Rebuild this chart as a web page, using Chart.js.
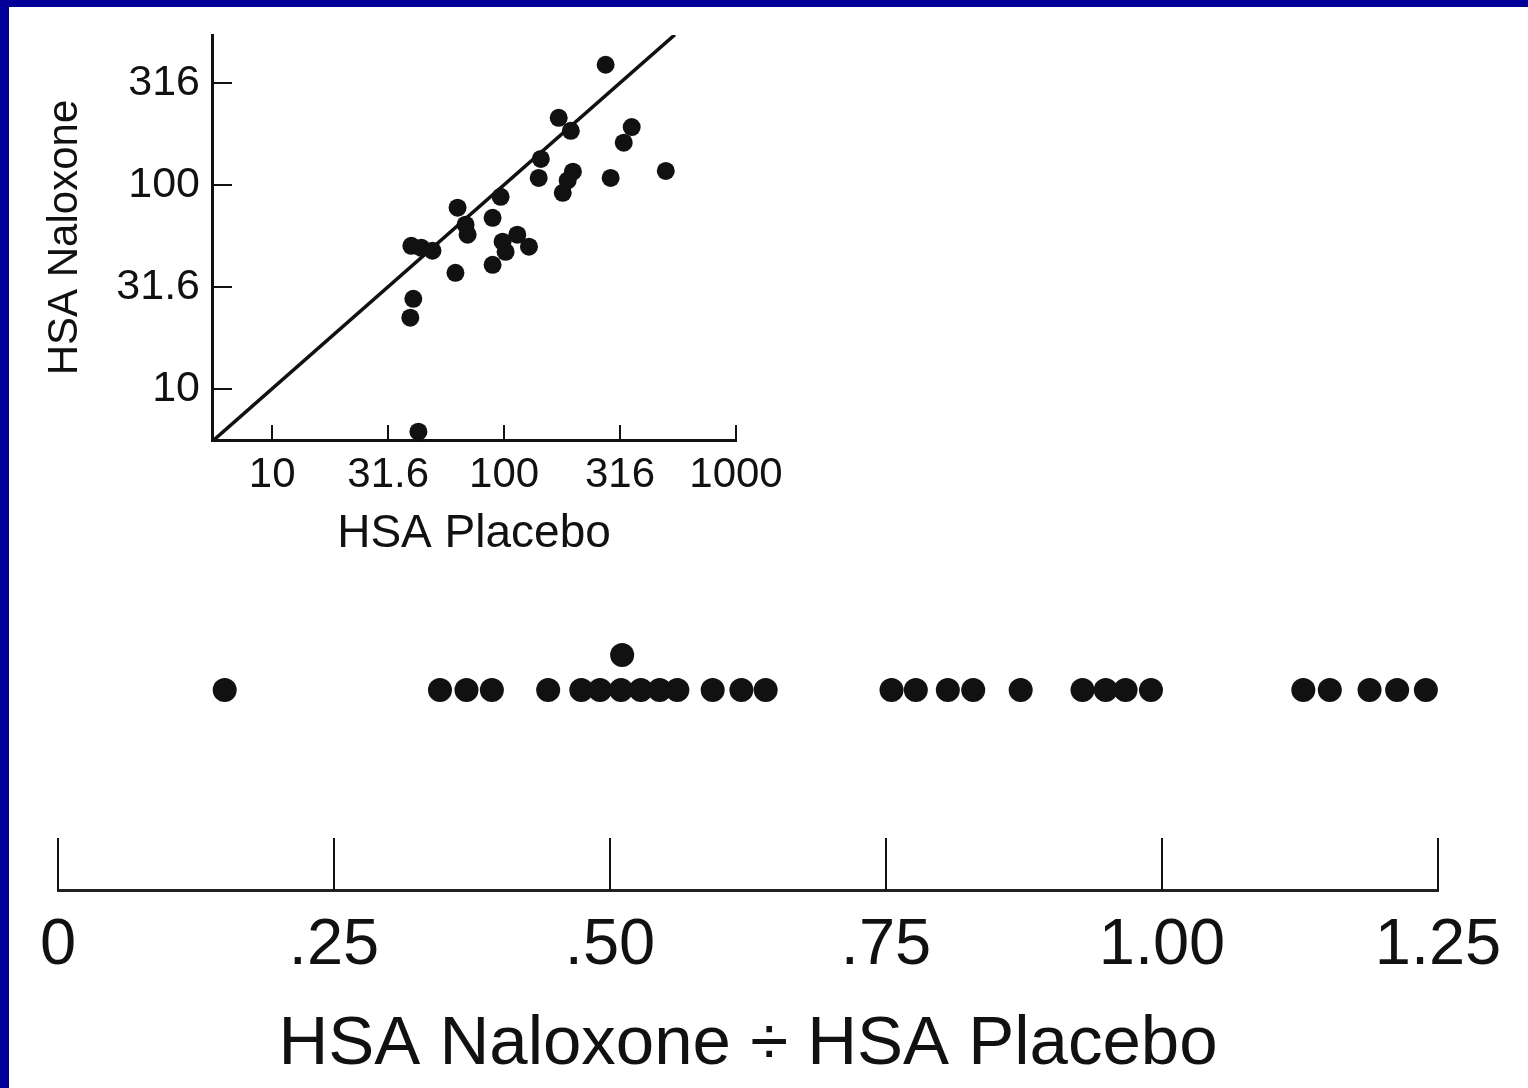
<!DOCTYPE html>
<html>
<head>
<meta charset="utf-8">
<script src="https://cdn.jsdelivr.net/npm/chart.js@4.4.1/dist/chart.umd.min.js"></script>
<style>
  html, body { margin: 0; padding: 0; background: #fff; }
  body { width: 1528px; height: 1088px; position: relative; overflow: hidden; }
  canvas { position: absolute; }
  #scatter { left: 0; top: 0; }
  #ratio { left: 0; top: 600px; }
  .band { position: absolute; background: #000099; }
  .band.top { left: 0; top: 0; width: 1528px; height: 7px; }
  .band.left { left: 0; top: 0; width: 9px; height: 1088px; }
</style>
</head>
<body>
<canvas id="scatter" width="800" height="580"></canvas>
<canvas id="ratio" width="1528" height="488"></canvas>
<div class="band top"></div>
<div class="band left"></div>
<script>
'use strict';

const FONT = '"Liberation Sans", Arial, Helvetica, sans-serif';
const INK = '#111';

// top panel: HSA under placebo vs HSA under naloxone, log-log
const placeboHSA = [274, 172, 194, 355, 328, 144, 141, 198, 188, 179, 288, 498, 96.6, 63, 89.2, 68.2, 69.6, 98.5, 101.5, 114, 128, 89.2, 61.7, 39.8, 44, 49.1, 40.6, 39.4, 42.7];
const naloxoneHSA = [388, 213, 184, 192, 161, 134, 108, 116, 105, 91.3, 108, 117, 87.3, 77.2, 68.9, 63.7, 56.9, 52.6, 46.9, 56.9, 49.7, 40.5, 37, 50.2, 49.1, 47.5, 27.6, 22.3, 6.15];
const identityLine = [5.5, 545];
const xTickValues = [10, 31.62, 100, 316.2, 1000];
const xTickLabels = ['10', '31.6', '100', '316', '1000'];
const yTickValues = [10, 31.62, 100, 316.2];
const yTickLabels = ['10', '31.6', '100', '316'];

// bottom panel: ratio naloxone / placebo, one dot per subject (row 2 = stacked dot)
const ratioValues = [0.151, 0.346, 0.370, 0.393, 0.444, 0.474, 0.491, 0.510, 0.528, 0.545, 0.561, 0.511, 0.593, 0.619, 0.641,
    0.755, 0.777, 0.806, 0.829, 0.872, 0.928, 0.949, 0.967, 0.990, 1.128, 1.152, 1.188, 1.213, 1.239];
const ratioRows = [1, 1, 1, 1, 1, 1, 1, 1, 1, 1, 1, 2, 1, 1, 1,
    1, 1, 1, 1, 1, 1, 1, 1, 1, 1, 1, 1, 1, 1];
const ratioTickValues = [0, 0.25, 0.5, 0.75, 1, 1.25];
const ratioTickLabels = ['0', '.25', '.50', '.75', '1.00', '1.25'];

// tick marks that point into the plot instead of out of it
const inwardTicks = {
    id: 'inwardTicks',
    afterDraw(chart, args, opts) {
        const ctx = chart.ctx;
        const area = chart.chartArea;
        ctx.save();
        ctx.strokeStyle = INK;
        ctx.lineWidth = opts.width;
        ctx.beginPath();
        (opts.x || []).forEach(v => {
            const px = Math.round(chart.scales.x.getPixelForValue(v));
            ctx.moveTo(px, area.bottom);
            ctx.lineTo(px, area.bottom - opts.xLength);
        });
        (opts.y || []).forEach(v => {
            const py = Math.round(chart.scales.y.getPixelForValue(v));
            ctx.moveTo(area.left, py);
            ctx.lineTo(area.left + opts.yLength, py);
        });
        ctx.stroke();
        ctx.restore();
    }
};

new Chart(document.getElementById('scatter'), {
    type: 'scatter',
    data: {
        datasets: [{
            data: placeboHSA.map((x, i) => ({ x: x, y: naloxoneHSA[i] })),
            backgroundColor: INK,
            borderWidth: 0,
            pointRadius: 9,
            clip: false,
        }, {
            data: identityLine.map(v => ({ x: v, y: v })),
            showLine: true,
            pointRadius: 0,
            borderColor: INK,
            borderWidth: 3.5,
        }],
    },
    options: {
        responsive: false,
        animation: false,
        layout: { padding: { top: 35, right: 64, left: 0, bottom: 0 } },
        plugins: {
            legend: { display: false },
            tooltip: { enabled: false },
            inwardTicks: { x: xTickValues, y: yTickValues, xLength: 15, yLength: 20, width: 2 },
        },
        scales: {
            x: {
                type: 'logarithmic',
                min: 5.5,
                max: 1000,
                grid: { display: false },
                border: { display: true, color: INK, width: 3 },
                afterBuildTicks: s => { s.ticks = xTickValues.map(value => ({ value })); },
                afterFit: s => { s.height = 140; },
                ticks: {
                    autoSkip: false, maxRotation: 0, padding: 2, color: INK,
                    font: { family: FONT, size: 42 },
                    callback: (v, i) => xTickLabels[i],
                },
                title: {
                    display: true, text: 'HSA Placebo', color: INK,
                    font: { family: FONT, size: 46 },
                    padding: { top: 0, bottom: 18 },
                },
            },
            y: {
                type: 'logarithmic',
                min: 5.6,
                max: 543,
                grid: { display: false },
                border: { display: true, color: INK, width: 3 },
                afterBuildTicks: s => { s.ticks = yTickValues.map(value => ({ value })); },
                afterFit: s => { s.width = 212; },
                ticks: {
                    autoSkip: false, padding: 4, color: INK,
                    font: { family: FONT, size: 43 },
                    callback: (v, i) => yTickLabels[i],
                },
                title: {
                    display: true, text: 'HSA Naloxone', color: INK,
                    font: { family: FONT, size: 42 },
                    padding: { top: 40, bottom: 0 },
                },
            },
        },
    },
    plugins: [inwardTicks],
});

new Chart(document.getElementById('ratio'), {
    type: 'scatter',
    data: {
        datasets: [{
            data: ratioValues.map((x, i) => ({ x: x, y: ratioRows[i] })),
            backgroundColor: INK,
            borderWidth: 0,
            pointRadius: 12,
            clip: false,
        }],
    },
    options: {
        responsive: false,
        animation: false,
        layout: { padding: { top: 20, right: 90, left: 58, bottom: 0 } },
        plugins: {
            legend: { display: false },
            tooltip: { enabled: false },
            inwardTicks: { x: ratioTickValues, xLength: 52, width: 2 },
        },
        scales: {
            x: {
                type: 'linear',
                min: 0,
                max: 1.25,
                grid: { display: false },
                border: { display: true, color: '#222', width: 3 },
                afterBuildTicks: s => { s.ticks = ratioTickValues.map(value => ({ value })); },
                afterFit: s => { s.height = 198; },
                ticks: {
                    autoSkip: false, maxRotation: 0, padding: 9, color: INK,
                    font: { family: FONT, size: 65 },
                    callback: (v, i) => ratioTickLabels[i],
                },
                title: {
                    display: true, text: 'HSA Naloxone ÷ HSA Placebo', color: INK,
                    font: { family: FONT, size: 69 },
                    padding: { top: 0, bottom: 2 },
                },
            },
            y: { display: false, min: -4.714, max: 3 },
        },
    },
    plugins: [inwardTicks],
});
</script>
</body>
</html>
